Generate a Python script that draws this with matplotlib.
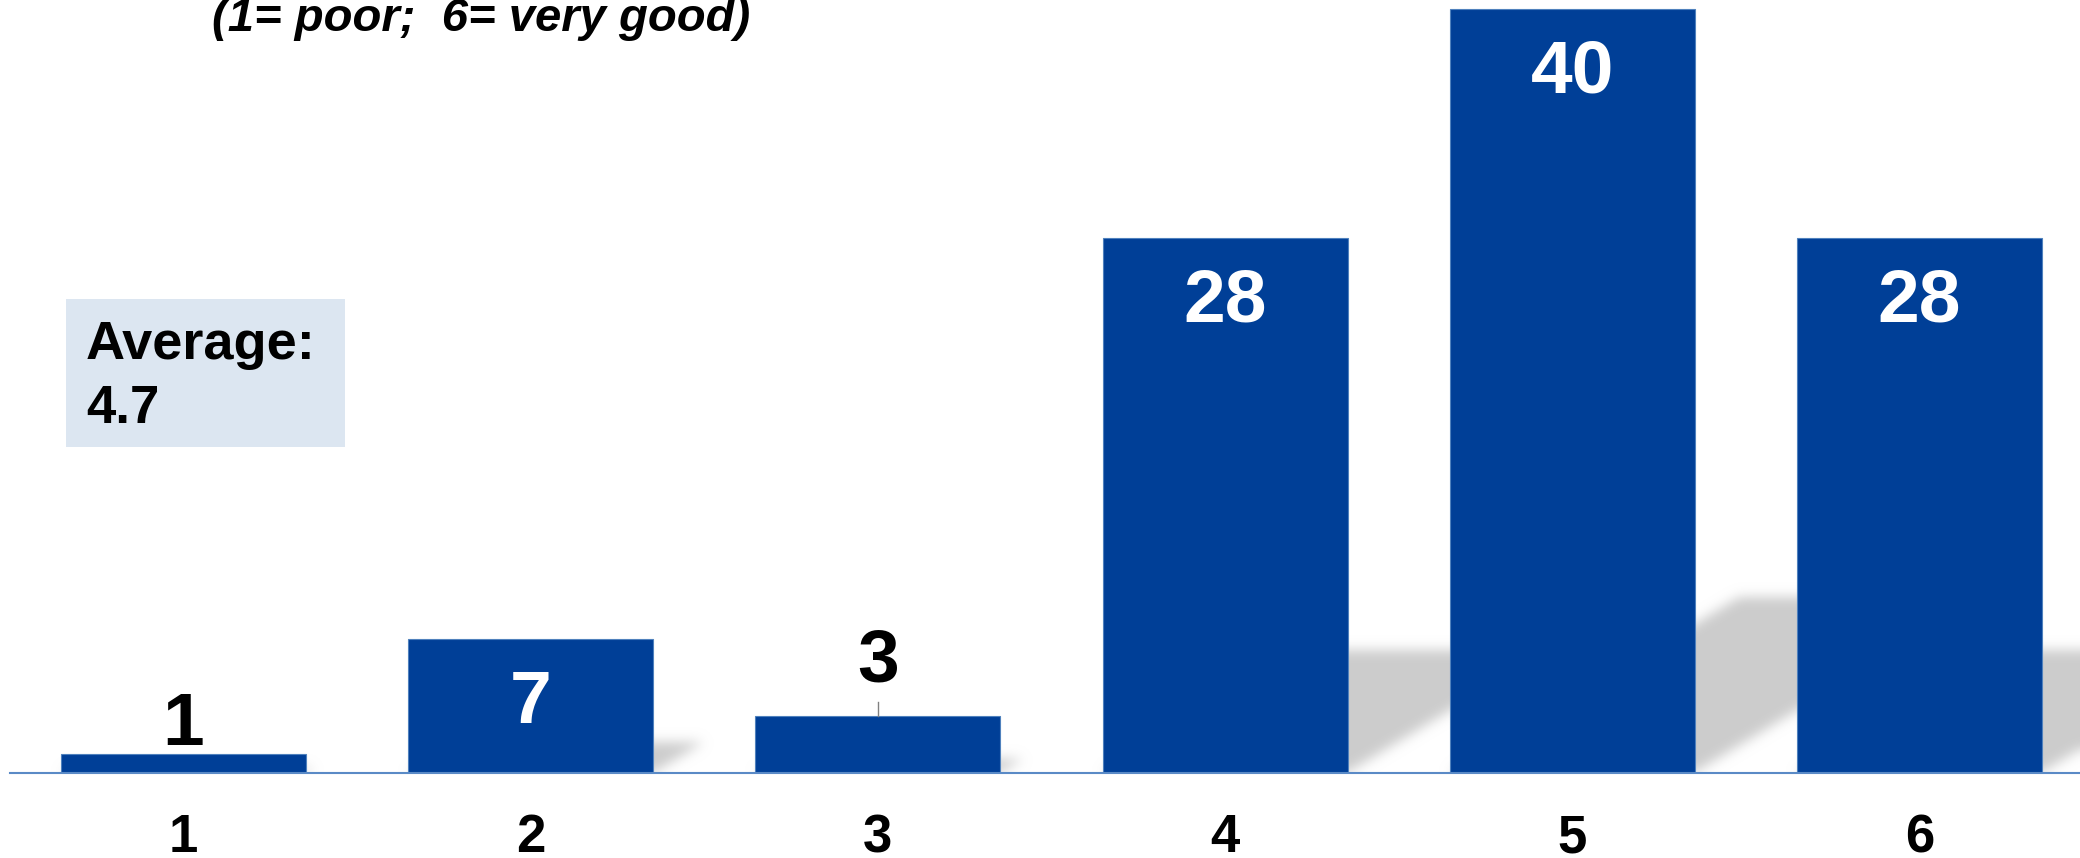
import numpy as np
import matplotlib
matplotlib.use('Agg')
import matplotlib.pyplot as plt
from matplotlib.patches import Rectangle

# Data
categories = ['1', '2', '3', '4', '5', '6']
counts = [1, 7, 3, 28, 40, 28]
avg_label = 'Average:'
avg_value = '4.7'
subtitle = '(1= poor;  6= very good)'

BAR_BLUE = '#003F97'
EDGE_BLUE = '#4F81BD'
AXIS_BLUE = '#5A8AC6'
SHADOW = 0.80

plt.rcParams['font.family'] = ['Liberation Sans', 'DejaVu Sans']

W, H = 2080, 858
fig = plt.figure(figsize=(W / 100, H / 100), dpi=100)
ax_left, ax_bottom, ax_w, ax_h = 10, 85, 2070, 773
ax = fig.add_axes([ax_left / W, ax_bottom / H, ax_w / W, ax_h / H])

x = np.arange(len(categories))
xlim = (-0.5, 5.4625)
ylim = (0, 40.49)
ax.set_xlim(*xlim)
ax.set_ylim(*ylim)

# pixels per data unit
px_x = ax_w / (xlim[1] - xlim[0])
px_y = ax_h / (ylim[1] - ylim[0])

bar_w = 0.706

# Soft perspective shadows cast to the upper right of every bar
gx = np.linspace(xlim[0], xlim[1], ax_w)
gy = np.linspace(ylim[0], ylim[1], ax_h)
XX, YY = np.meshgrid(gx, gy)
mask = np.zeros_like(XX)
for xi, v in zip(x, counts):
    sh = 0.23 * v                       # shadow height (data units)
    dx = 1.65 * sh * px_y / px_x        # horizontal skew at the top
    t = np.clip(YY / sh, 0, None)
    inside = (YY <= sh) & (XX >= xi - bar_w / 2 + t * dx) & (XX <= xi + bar_w / 2 + t * dx)
    mask[inside] = 1.0

sigma = 6
k = np.arange(-3 * sigma, 3 * sigma + 1)
kern = np.exp(-k ** 2 / (2 * sigma ** 2))
kern /= kern.sum()
pad = len(k) // 2
for axis in (0, 1):
    m = np.pad(mask, [(pad, pad) if a == axis else (0, 0) for a in (0, 1)], mode='edge' if axis == 1 else 'constant')
    out = np.zeros_like(mask)
    for i, kv in enumerate(kern):
        if axis == 0:
            out += kv * m[i:i + mask.shape[0], :]
        else:
            out += kv * m[:, i:i + mask.shape[1]]
    mask = out

img = np.zeros(mask.shape + (4,))
img[..., :3] = SHADOW
img[..., 3] = np.clip(mask, 0, 1)
ax.imshow(img, origin='lower', extent=[xlim[0], xlim[1], ylim[0], ylim[1]],
          aspect='auto', interpolation='bilinear', zorder=1)

ax.bar(x, counts, width=bar_w, color=BAR_BLUE, edgecolor=EDGE_BLUE, linewidth=0.8, zorder=2)

# Value labels
for xi, v in zip(x, counts):
    if v >= 7:
        ax.annotate(str(v), xy=(xi, v), xytext=(0, -21), textcoords='offset points',
                    ha='center', va='top', fontsize=54, fontweight='bold', color='white', zorder=3)
    elif v >= 3:
        ax.plot([xi, xi], [v, v + 14 / px_y], color='#808080', lw=1, zorder=3)
        ax.annotate(str(v), xy=(xi, v), xytext=(0, 24.5), textcoords='offset points',
                    ha='center', va='baseline', fontsize=54, fontweight='bold', color='black', zorder=3)
    else:
        ax.annotate(str(v), xy=(xi, v), xytext=(0, 6.5), textcoords='offset points',
                    ha='center', va='baseline', fontsize=54, fontweight='bold', color='black', zorder=3)

ax.set_xticks(x)
ax.set_xticklabels(categories, fontsize=38, fontweight='bold')
ax.tick_params(axis='x', length=0, pad=29)
ax.set_yticks([])
for s in ['top', 'left', 'right']:
    ax.spines[s].set_visible(False)
ax.spines['bottom'].set_color(AXIS_BLUE)
ax.spines['bottom'].set_linewidth(1.5)
ax.spines['bottom'].set_zorder(4)
ax.patch.set_alpha(0)

# Average box
fig.patches.append(Rectangle((66 / W, (H - 447) / H), (345 - 66) / W, (447 - 299) / H,
                             transform=fig.transFigure, facecolor='#DCE6F1', edgecolor='none', zorder=0))
fig.text(86 / W, (H - 359) / H, avg_label, fontsize=39, fontweight='bold', va='baseline')
fig.text(86 / W, (H - 423) / H, avg_value, fontsize=38, fontweight='bold', va='baseline')

# Subtitle (cut off at the top)
fig.text(212 / W, (H - 31) / H, subtitle, fontsize=34, fontweight='bold', fontstyle='italic', va='baseline')

fig.savefig('out.png', dpi=100)
